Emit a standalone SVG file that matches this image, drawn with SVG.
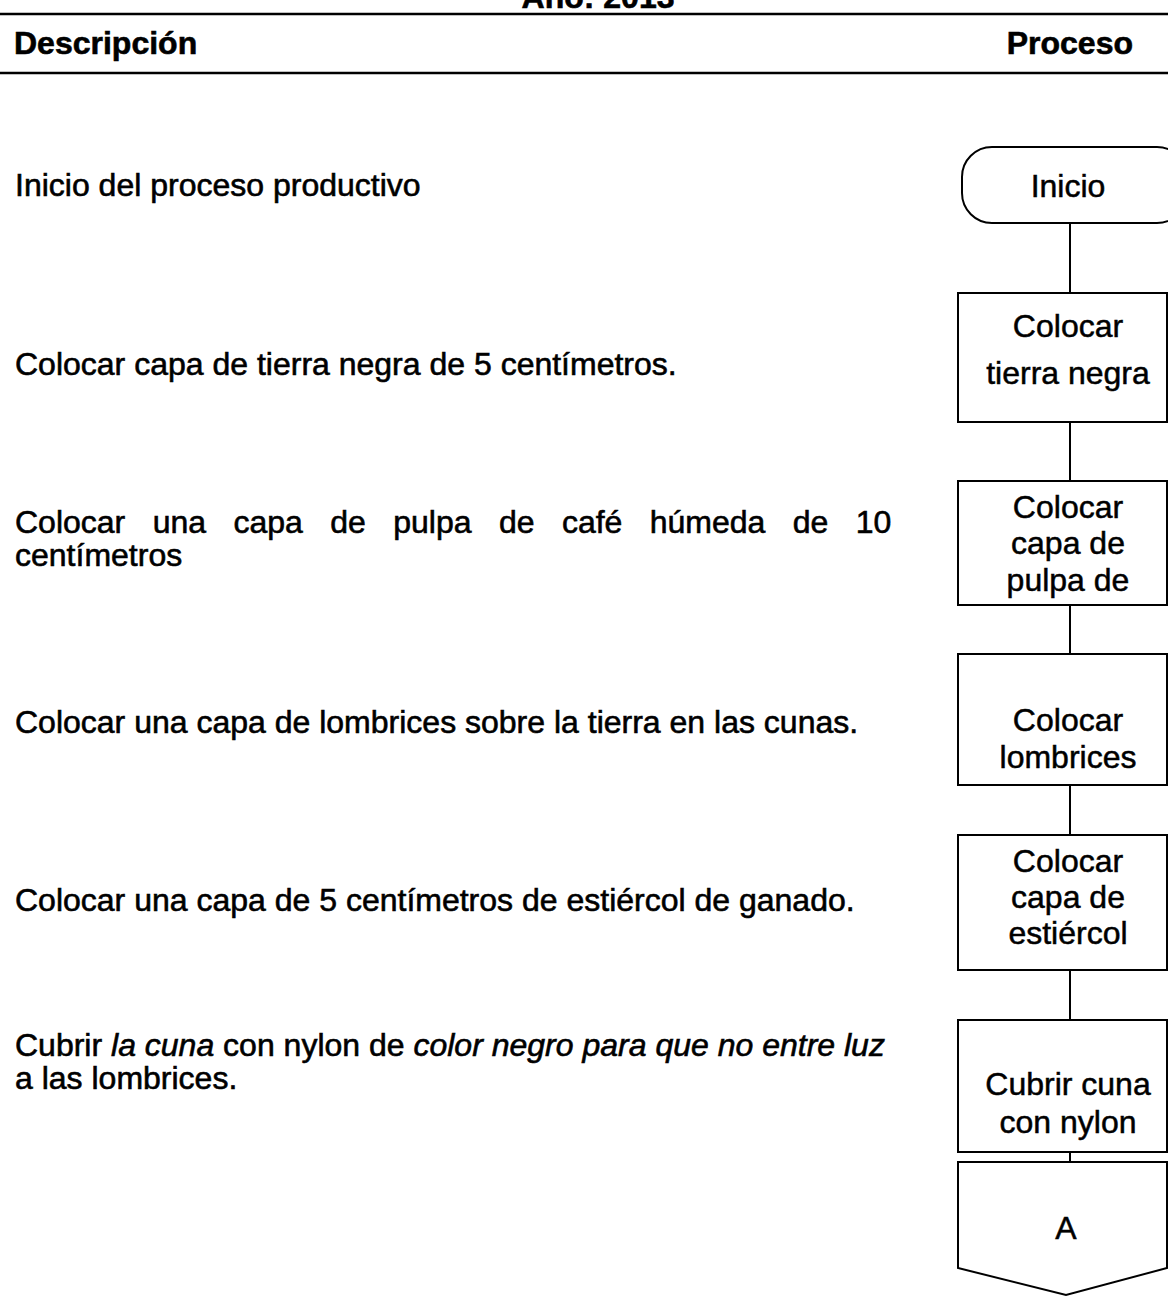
<svg xmlns="http://www.w3.org/2000/svg" width="1168" height="1299" viewBox="0 0 1168 1299">
<style>
.hdr{font-family:"Liberation Sans",Arial,sans-serif;font-weight:bold;font-size:32px;fill:#000;stroke:#000;stroke-width:0.6}
.d{font-family:"Liberation Sans",Arial,sans-serif;font-size:32px;fill:#000;stroke:#000;stroke-width:0.6}
.n{font-family:"Liberation Sans",Arial,sans-serif;font-size:32px;fill:#000;stroke:#000;stroke-width:0.5;text-anchor:middle}
.i{font-style:italic}
.box{fill:#fff;stroke:#000;stroke-width:2}
.rule{stroke:#000;stroke-width:2.5}
.c{stroke:#000;stroke-width:2;fill:none}
</style>
<rect width="1168" height="1299" fill="#fff"/>
<g id="header">
<text class="hdr" x="598" y="8" text-anchor="middle">Año: 2013</text>
<line class="rule" x1="0" y1="14" x2="1168" y2="14"/>
<text class="hdr" x="14" y="54">Descripción</text>
<text class="hdr" x="1133" y="54" text-anchor="end">Proceso</text>
<line class="rule" x1="0" y1="73" x2="1168" y2="73"/>
</g>
<g id="descriptions">
<text class="d" x="15" y="196">Inicio del proceso productivo</text>
<text class="d" x="15" y="375">Colocar capa de tierra negra de 5 centímetros.</text>
<text class="d" x="15" y="533" word-spacing="18.5">Colocar una capa de pulpa de café húmeda de 10</text>
<text class="d" x="15" y="566">centímetros</text>
<text class="d" x="15" y="733">Colocar una capa de lombrices sobre la tierra en las cunas.</text>
<text class="d" x="15" y="911">Colocar una capa de 5 centímetros de estiércol de ganado.</text>
<text class="d" x="15" y="1056">Cubrir <tspan class="i">la cuna </tspan>con nylon de <tspan class="i">color negro para que no entre luz</tspan></text>
<text class="d" x="15" y="1089">a las lombrices.</text>
</g>
<g id="connectors">
<line class="c" x1="1070" y1="223" x2="1070" y2="293"/>
<line class="c" x1="1070" y1="422" x2="1070" y2="481"/>
<line class="c" x1="1070" y1="605" x2="1070" y2="654"/>
<line class="c" x1="1070" y1="785" x2="1070" y2="835"/>
<line class="c" x1="1070" y1="970" x2="1070" y2="1020"/>
<line class="c" x1="1070" y1="1152" x2="1070" y2="1162"/>
</g>
<g id="inicio">
<rect class="box" x="962" y="147" width="225" height="76" rx="30"/>
<text class="n" x="1068" y="197">Inicio</text>
</g>
<g id="tierra">
<rect class="box" x="958" y="293" width="209" height="129"/>
<text class="n" x="1068" y="337">Colocar</text>
<text class="n" x="1068" y="384">tierra negra</text>
</g>
<g id="pulpa">
<rect class="box" x="958" y="481" width="209" height="124"/>
<text class="n" x="1068" y="518">Colocar</text>
<text class="n" x="1068" y="554">capa de</text>
<text class="n" x="1068" y="591">pulpa de</text>
</g>
<g id="lombrices">
<rect class="box" x="958" y="654" width="209" height="131"/>
<text class="n" x="1068" y="731">Colocar</text>
<text class="n" x="1068" y="768">lombrices</text>
</g>
<g id="estiercol">
<rect class="box" x="958" y="835" width="209" height="135"/>
<text class="n" x="1068" y="872">Colocar</text>
<text class="n" x="1068" y="908">capa de</text>
<text class="n" x="1068" y="944">estiércol</text>
</g>
<g id="nylon">
<rect class="box" x="958" y="1020" width="209" height="132"/>
<text class="n" x="1068" y="1095">Cubrir cuna</text>
<text class="n" x="1068" y="1133">con nylon</text>
</g>
<g id="conector-A">
<path class="box" d="M958,1162 H1167 V1268 L1066,1295 L958,1268 Z"/>
<text class="n" x="1066" y="1239">A</text>
</g>
</svg>
